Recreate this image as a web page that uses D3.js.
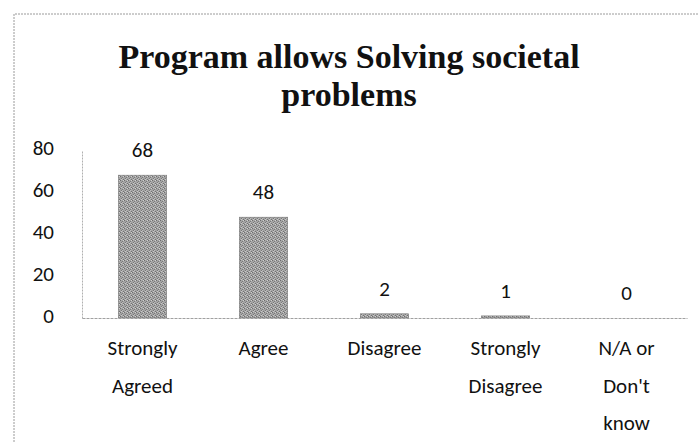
<!DOCTYPE html>
<html><head><meta charset="utf-8">
<script src="https://cdn.jsdelivr.net/npm/d3@7"></script>
<style>body{margin:0;background:#fff}svg{display:block}</style>
</head><body>
<script>
const categories = [["Strongly","Agreed"],["Agree"],["Disagree"],["Strongly","Disagree"],["N/A or","Don't","know"]];
const values = [68, 48, 2, 1, 0];
const yTicks = [0, 20, 40, 60, 80];
const titleLines = ["Program allows Solving societal", "problems"];

const W = 698, H = 442;
const svg = d3.select("body").append("svg").attr("width", W).attr("height", H);

const defs = svg.append("defs");
const pat = defs.append("pattern").attr("id","stip").attr("patternUnits","userSpaceOnUse")
  .attr("width",4).attr("height",4);
pat.append("rect").attr("width",4).attr("height",4).attr("fill","#a4a4a4");
[[0,0,"#6e6e6e"],[2,1,"#7a7a7a"],[1,2,"#787878"],[3,3,"#727272"],[3,0,"#cfcfcf"],[1,3,"#c8c8c8"],[2,2,"#bcbcbc"]]
  .forEach(([px,py,c]) => pat.append("rect").attr("x",px).attr("y",py).attr("width",1).attr("height",1).attr("fill",c));

// outer border
svg.append("path").attr("d","M14,442 V14 H698").attr("fill","none")
  .attr("stroke","#9a9a9a").attr("stroke-width",1).attr("stroke-dasharray","2,1");

// title
svg.append("g").selectAll("text").data(titleLines).join("text")
  .attr("x", 349).attr("y", (d,i) => 68 + i*38)
  .attr("text-anchor","middle")
  .attr("font-family","'Liberation Serif','Times New Roman',serif")
  .attr("font-weight","bold").attr("font-size",34).attr("fill","#111")
  .text(d => d);

const x = d3.scaleBand().domain(d3.range(values.length)).range([82, 687])
  .paddingInner(0.6).paddingOuter(0.3);
const y = d3.scaleLinear().domain([0, 80]).range([318, 150]);

const font = "Carlito, Lato, 'Open Sans', sans-serif";
const fs = 21;

// y axis
const yAxis = d3.axisLeft(y).tickValues(yTicks).tickSize(0).tickPadding(28);
const gy = svg.append("g").attr("transform","translate(82,0)").call(yAxis);
gy.select(".domain").attr("stroke","#b0b0b0").attr("stroke-dasharray","2,1");
gy.selectAll("text").attr("font-family",font).attr("font-size",fs).attr("fill","#111").attr("dy","0.2em");

// bars
svg.append("g").selectAll("rect").data(values).join("rect")
  .attr("x",(d,i)=>x(i)).attr("width",x.bandwidth())
  .attr("y",d=>y(d)).attr("height",d=>y(0)-y(d))
  .attr("fill","url(#stip)").attr("stroke","#7a7a7a").attr("stroke-width",0.6);

// baseline
const xAxis = d3.axisBottom(x).tickSize(0).tickFormat("");
const gx = svg.append("g").attr("transform",`translate(0,${y(0)})`).call(xAxis);
gx.select(".domain").attr("stroke","#a0a0a0").attr("stroke-dasharray","3,1");

// data labels
svg.append("g").selectAll("text").data(values).join("text")
  .attr("x",(d,i)=>x(i)+x.bandwidth()/2).attr("y",d=>y(d)-18)
  .attr("text-anchor","middle").attr("font-family",font).attr("font-size",fs).attr("fill","#111")
  .text(d=>d);

// category labels
const cg = svg.append("g").selectAll("g").data(categories).join("g")
  .attr("transform",(d,i)=>`translate(${x(i)+x.bandwidth()/2},0)`);
cg.selectAll("text").data(d=>d).join("text")
  .attr("x",0).attr("y",(d,j)=>355 + j*37.5)
  .attr("text-anchor","middle").attr("font-family",font).attr("font-size",fs).attr("fill","#111")
  .text(d=>d);
</script>
</body></html>
